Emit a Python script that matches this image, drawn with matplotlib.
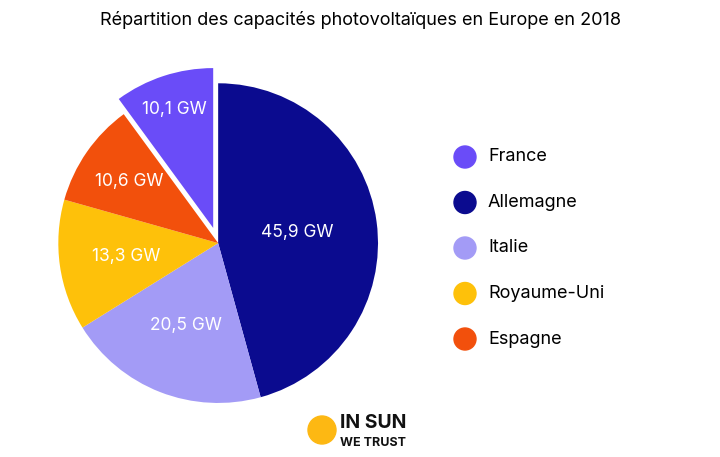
import numpy as np
import matplotlib.pyplot as plt
from matplotlib.patches import Ellipse

plt.rcParams['font.family'] = ['Inter', 'DejaVu Sans']

# pie data, in drawing order (clockwise from top)
pie_labels = ['Allemagne', 'Italie', 'Royaume-Uni', 'Espagne', 'France']
pie_values = [45.9, 20.5, 13.3, 10.6, 10.1]
pie_colors = ['#0B0B8F', '#A39BF6', '#FEC10A', '#F2500C', '#6A4CF8']
pie_texts = ['45,9 GW', '20,5 GW', '13,3 GW', '10,6 GW', '10,1 GW']

legend_order = ['France', 'Allemagne', 'Italie', 'Royaume-Uni', 'Espagne']

W, H = 720, 457
fig = plt.figure(figsize=(7.2, 4.57), dpi=100)
fig.text(0.5, 1 - 20 / H, 'Répartition des capacités photovoltaïques en Europe en 2018',
         ha='center', va='center', fontsize=13)

ax = fig.add_axes([0.081, 0.118, 0.444, 0.70])
explode = [0, 0, 0, 0, 0.1]
wedges, _ = ax.pie(pie_values, colors=pie_colors, startangle=90, counterclock=False,
                   explode=explode, radius=1.0)
ax.set_xlim(-1, 1)
ax.set_ylim(-1, 1)
ax.set_aspect('equal')

label_r = [0.5, 0.55, 0.58, 0.68, 0.88]
for w, t, r in zip(wedges, pie_texts, label_r):
    ang = np.deg2rad((w.theta1 + w.theta2) / 2)
    ax.text(r * np.cos(ang), r * np.sin(ang), t, ha='center', va='center',
            color='white', fontsize=12.5)

# legend
color_of = dict(zip(pie_labels, pie_colors))
for i, name in enumerate(legend_order):
    y = 1 - (157 + i * 45.5) / H
    fig.patches.append(Ellipse((465 / W, y), 22 / W, 22 / H, color=color_of[name],
                               transform=fig.transFigure))
    fig.text(488 / W, y, name, ha='left', va='center', fontsize=13)

# logo
fig.patches.append(Ellipse((322 / W, 1 - 430 / H), 28 / W, 28 / H, color='#FDB813',
                           transform=fig.transFigure))
fig.text(340 / W, 1 - 423 / H, 'IN SUN', ha='left', va='center',
         fontsize=14, fontweight='bold', color='#111111')
fig.text(340 / W, 1 - 443 / H, 'WE TRUST', ha='left', va='center',
         fontsize=9, fontweight='bold', color='#111111')

fig.savefig('out.png', dpi=100)
